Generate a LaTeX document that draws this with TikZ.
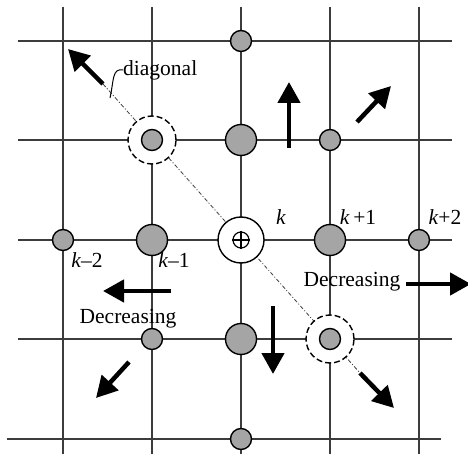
\documentclass[tikz,border=0pt]{standalone}
\usepackage{fontspec}
\setmainfont{Liberation Serif}
\usetikzlibrary{arrows.meta}
\definecolor{nodegray}{RGB}{165,165,165}
\definecolor{gridgray}{RGB}{60,60,60}
\begin{document}
\begin{tikzpicture}[x=1pt,y=-1pt,
 gridline/.style={draw=gridgray,line width=1.4pt},
 smallpt/.style={circle,draw=black,line width=1.4pt,fill=nodegray,minimum size=21pt,inner sep=0pt},
 bigpt/.style={smallpt,minimum size=31pt},
 ring/.style={circle,draw=black,dash pattern=on 6pt off 3pt,line width=1.4pt,fill=white,minimum size=48pt,inner sep=0pt},
 centre/.style={circle,draw=black,line width=1.4pt,fill=white,minimum size=46pt,inner sep=0pt},
 oplus/.style={circle,draw=black,line width=1.2pt,minimum size=16pt,inner sep=0pt},
 bigarrow/.style={line width=4.5pt,-{Triangle[width=22pt,length=21pt]}},
 lbl/.style={font=\fontsize{21.5}{24}\selectfont,inner sep=0pt},
 diagline/.style={draw=black!75,line width=0.8pt,dash pattern=on 4pt off 2pt on 1pt off 2pt},
 leader/.style={draw=black,line width=1pt}]
\useasboundingbox (0,0) rectangle (468,454);
% grid
\foreach \x in {63,152,241,330,419} \draw[gridline] (\x,7) -- (\x,456);
\foreach \y in {41,140,240,339} \draw[gridline] (18,\y) -- (452,\y);
\draw[gridline] (7,439) -- (441,439);
% diagonal
\coordinate (dstart) at (103,84);
\coordinate (dend) at (360,373);
\draw[diagline] (dstart) -- (dend);
% nodes
\node[smallpt] (n31) at (241,41) {};
\node[ring] (r22) at (152,140) {};
\node[smallpt] (n22) at (152,140) {};
\node[bigpt] (n32) at (241,140) {};
\node[smallpt] (n42) at (330,140) {};
\node[smallpt] (n13) at (63,240) {};
\node[bigpt] (n23) at (152,240) {};
\node[centre] (c) at (241,240) {};
\node[oplus] (cp) at (241,240) {};
\draw[line width=1.2pt] (cp.north) -- (cp.south) (cp.west) -- (cp.east);
\node[bigpt] (n43) at (330,240) {};
\node[smallpt] (n53) at (419,240) {};
\node[smallpt] (n24) at (152,339) {};
\node[bigpt] (n34) at (241,339) {};
\node[ring] (r44) at (330,339) {};
\node[smallpt] (n44) at (330,339) {};
\node[smallpt] (n35) at (241,439) {};
% arrows
\coordinate (ul) at (68,49);
\coordinate (lr) at (394,408);
\draw[bigarrow] (dstart) -- (ul);
\draw[bigarrow] (dend) -- (lr);
\draw[bigarrow] (289,148) -- (289,82);
\draw[bigarrow] (357,122) -- (391,86);
\draw[bigarrow] (171,291) -- (103,291);
\draw[bigarrow] (129,362) -- (96,398);
\draw[bigarrow] (273,306) -- (273,374);
\draw[bigarrow] (406,284) -- (471,284);
% labels
\node[lbl] (lk) at (281,217) {\textit{k}};
\node[lbl] (lk1) at (358,217) {\textit{k}\,+1};
\node[lbl] (lk2) at (445,217) {\textit{k}+2};
\node[lbl] (lkm2) at (87,260) {\textit{k}–2};
\node[lbl] (lkm1) at (174,260) {\textit{k}–1};
\node[lbl] (dl) at (128,319) {Decreasing};
\node[lbl] (dr) at (352,282) {Decreasing};
\node[lbl,anchor=west] (diag) at (123,70) {diagonal};
\coordinate (lfoot) at (110,98);
\draw[leader] (lfoot) .. controls (114,80) and (112,68) .. (diag.west);
\end{tikzpicture}
\end{document}
